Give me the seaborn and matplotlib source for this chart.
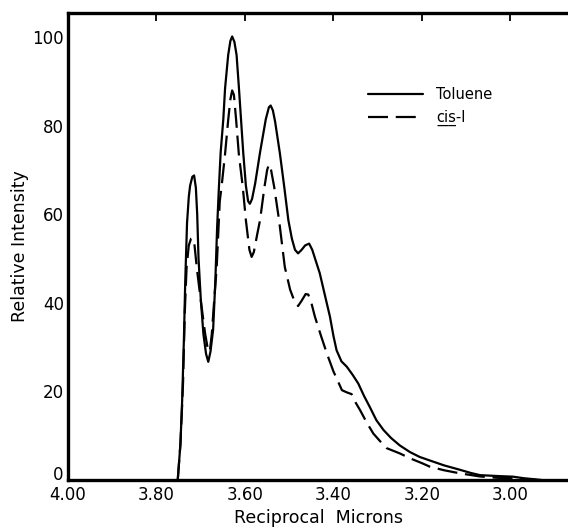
import matplotlib
matplotlib.use("Agg")
import matplotlib.pyplot as plt
import matplotlib.transforms as mtransforms
import seaborn as sns
import pandas as pd

# ---- data ----
toluene_x = [3.752, 3.746, 3.742, 3.738, 3.735, 3.731, 3.727, 3.724, 3.719, 3.715,
             3.711, 3.708, 3.705, 3.700, 3.694, 3.688, 3.683, 3.678, 3.672, 3.667,
             3.663, 3.659, 3.655, 3.649, 3.645, 3.638, 3.633, 3.629, 3.624, 3.619,
             3.614, 3.609, 3.604, 3.598, 3.593, 3.589, 3.584, 3.577, 3.566, 3.553,
             3.546, 3.542, 3.537, 3.532, 3.521, 3.511, 3.502, 3.494, 3.487, 3.480,
             3.472, 3.464, 3.455, 3.448, 3.440, 3.431, 3.420, 3.408, 3.400, 3.393,
             3.382, 3.370, 3.357, 3.344, 3.331, 3.318, 3.303, 3.287, 3.270, 3.250,
             3.227, 3.205, 3.182, 3.150, 3.114, 3.090, 3.069, 3.030, 2.994, 2.970,
             2.949, 2.930]
toluene_y = [0, 8, 18, 32, 45, 58, 64, 66.5, 68.5, 68.8,
             66, 60, 50, 41, 33, 28.5, 26.7, 29, 34, 45,
             57, 66, 74, 81.5, 88.5, 96, 99.2, 100.2, 99, 96,
             89, 81.5, 74, 66.5, 63, 62.4, 63.5, 67, 74, 81.5,
             84.2, 84.6, 83.5, 81, 73.7, 66, 58.7, 54.5, 52, 51.2,
             52, 53, 53.4, 52, 49.5, 46.7, 42, 36.9, 32.5, 29.3,
             26.8, 25.6, 23.8, 21.8, 19, 16.5, 13.5, 11.3, 9.5, 7.8,
             6.3, 5.2, 4.4, 3.3, 2.3, 1.6, 1.1, 0.9, 0.75, 0.4,
             0.2, 0]

cis_x = [3.752, 3.746, 3.742, 3.740, 3.736, 3.732, 3.727, 3.722, 3.718, 3.714,
         3.709, 3.700, 3.690, 3.683, 3.679, 3.675, 3.670, 3.664, 3.657, 3.653,
         3.645, 3.638, 3.633, 3.629, 3.625, 3.620, 3.614, 3.605, 3.598, 3.590,
         3.585, 3.580, 3.572, 3.566, 3.556, 3.550, 3.546, 3.541, 3.534, 3.523,
         3.510, 3.498, 3.489, 3.480, 3.472, 3.463, 3.457, 3.450, 3.442, 3.428,
         3.415, 3.400, 3.393, 3.381, 3.370, 3.359, 3.350, 3.340, 3.325, 3.310,
         3.295, 3.280, 3.250, 3.227, 3.200, 3.182, 3.150, 3.114, 3.069, 3.030,
         2.994, 2.960, 2.940]
cis_y = [0, 8, 17, 22, 38, 48, 53, 54.5, 54.6, 53,
         48, 40.6, 33, 29, 29.5, 33, 40, 48, 63, 66.2,
         73.7, 81.3, 86, 88, 87, 81.3, 73.7, 66.2, 58.7, 52,
         50.4, 51.5, 55.7, 58.7, 66.2, 70, 71.3, 70, 66.2, 58.7,
         48.1, 43, 40.6, 39.3, 40.5, 42, 41.9, 40, 36.9, 32.5,
         28.6, 24.5, 23, 20.3, 19.8, 19.4, 17.5, 15.8, 13, 10.5,
         8.8, 7.2, 6.0, 4.9, 3.8, 3.0, 2.2, 1.5, 0.8, 0.5,
         0.4, 0.15, 0]

series_names = ["Toluene", "c\u0332i\u0332s\u0332-I"]
x_ticks = [4.00, 3.80, 3.60, 3.40, 3.20, 3.00]
x_ticklabels = ["4.00", "3.80", "3.60", "3.40", "3.20", "3.00"]
y_ticks = [0, 20, 40, 60, 80, 100]

df = pd.concat([
    pd.DataFrame({"x": toluene_x, "y": toluene_y, "series": series_names[0]}),
    pd.DataFrame({"x": cis_x, "y": cis_y, "series": series_names[1]}),
], ignore_index=True)

sns.set_style("white")
plt.rcParams["font.family"] = ["DejaVu Sans"]
plt.rcParams["text.color"] = "black"
plt.rcParams["axes.labelcolor"] = "black"
plt.rcParams["xtick.color"] = "black"
plt.rcParams["ytick.color"] = "black"

fig = plt.figure(figsize=(5.68, 5.29), dpi=100)
ax = fig.add_axes([68 / 568, 1 - 480 / 529, 1 - 68 / 568, (480 - 13) / 529])

sns.lineplot(data=df, x="x", y="y", hue="series", style="series",
             palette={series_names[0]: "black", series_names[1]: "black"},
             dashes={series_names[0]: "", series_names[1]: (9, 3.5)},
             estimator=None, sort=False, linewidth=1.6, ax=ax)

ax.set_xlim(4.00, 2.87)
ax.set_ylim(0, 105.5)
ax.set_xticks(x_ticks)
ax.set_xticklabels(x_ticklabels)
ax.set_yticks(y_ticks)
ax.tick_params(axis="both", direction="in", length=6, width=1.3, labelsize=12,
               color="black", labelcolor="black", pad=3)
ax.tick_params(axis="x", top=True, pad=4)
for side in ["left", "bottom", "top"]:
    ax.spines[side].set_linewidth(2.4)
    ax.spines[side].set_color("black")
ax.spines["right"].set_visible(False)

# lift the "0" label a little so it clears "4.00", as in the reference
zero_label = ax.get_yticklabels()[0]
zero_label.set_transform(zero_label.get_transform() +
                         mtransforms.ScaledTranslation(0, 7 / 100, fig.dpi_scale_trans))

ax.set_xlabel("Reciprocal  Microns", fontsize=12.5, labelpad=4)
ax.set_ylabel("Relative Intensity", fontsize=12.5, labelpad=2)

leg = ax.legend(loc="upper left", bbox_to_anchor=(0.573, 0.87), frameon=False,
                handlelength=3.8, handletextpad=0.9, fontsize=10.5,
                labelspacing=0.55, title=None)
for t in leg.get_texts():
    t.set_color("black")

fig.savefig("out.png", dpi=100, facecolor="white")
